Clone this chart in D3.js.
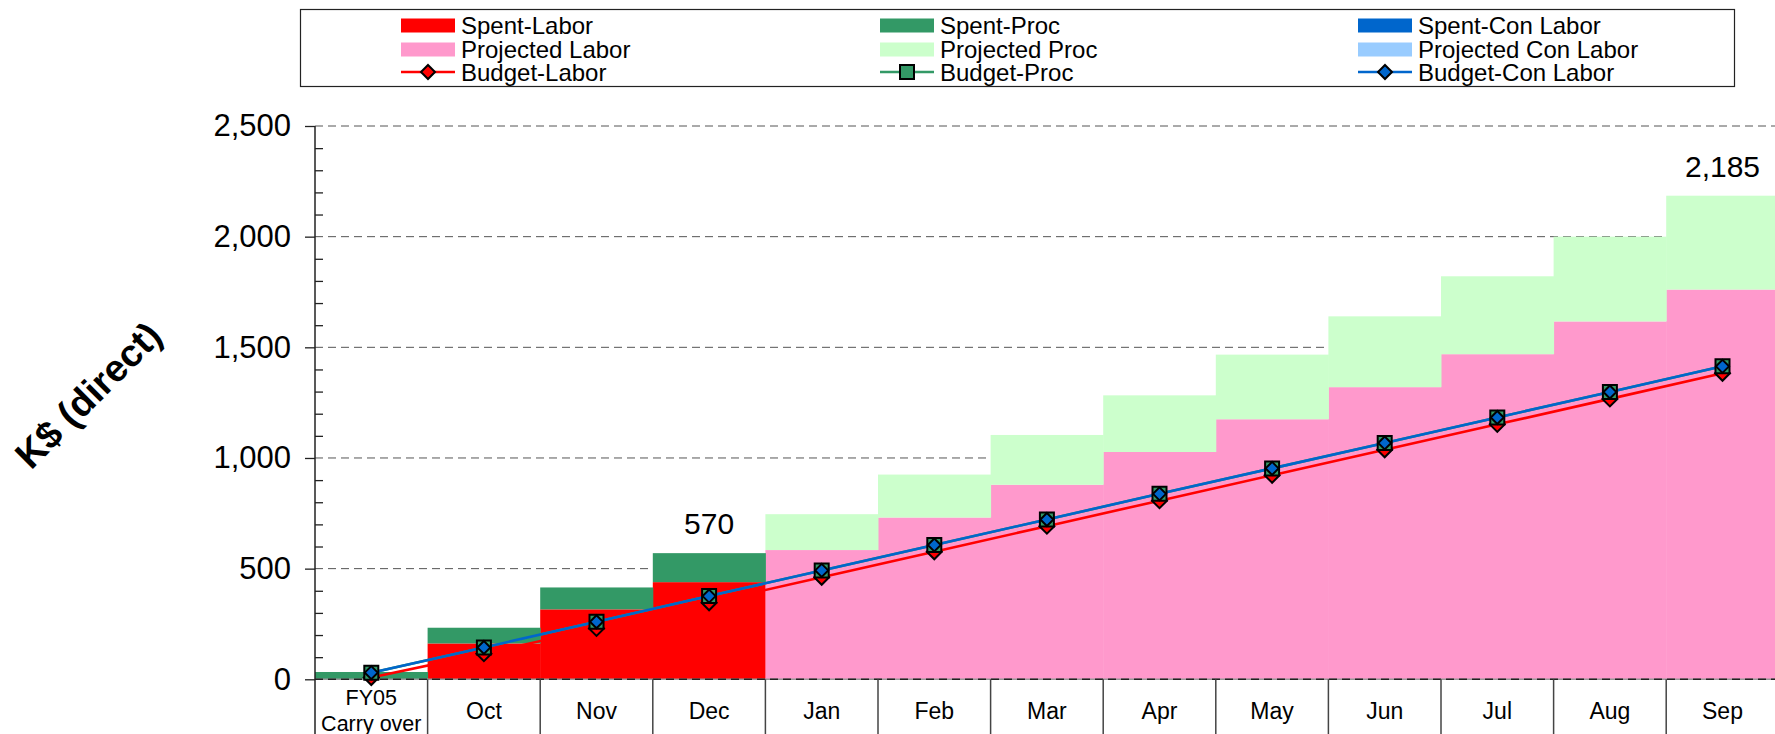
<!DOCTYPE html>
<html>
<head>
<meta charset="utf-8">
<script src="https://cdn.jsdelivr.net/npm/d3@7"></script>
<style>
    body { margin: 0; background: #fff; }
    #chart-area { width: 1775px; height: 734px; overflow: hidden; }
    text { font-family: "Liberation Sans", Arial, sans-serif; fill: #000; }
</style>
</head>
<body>
<div id="chart-area"></div>
<script>

// months (first one is the carry over from FY05)
const categories = ["FY05|Carry over", "Oct", "Nov", "Dec", "Jan", "Feb", "Mar", "Apr", "May", "Jun", "Jul", "Aug", "Sep"];

// K$ per bar segment
const spentLabor        = [0, 162, 316, 439, 0, 0, 0, 0, 0, 0, 0, 0, 0];
const spentProc         = [33, 71, 99, 131, 0, 0, 0, 0, 0, 0, 0, 0, 0];
const spentConLabor     = [0, 0, 0, 0, 0, 0, 0, 0, 0, 0, 0, 0, 0];
const projectedLabor    = [0, 0, 0, 0, 584, 731, 879, 1027, 1175, 1320, 1469, 1617, 1761];
const projectedProc     = [0, 0, 0, 0, 162, 194, 225, 256, 292, 320, 352, 383, 424];
const projectedConLabor = [0, 0, 0, 0, 0, 0, 0, 0, 0, 0, 0, 0, 0];

// budget lines (cumulative)
const budgetLabor    = [8, 116, 230, 346, 461, 576, 692, 807, 922, 1037, 1152, 1267, 1383];
const budgetProc     = [30, 144, 260, 376, 492, 607, 722, 838, 953, 1068, 1183, 1298, 1414];
const budgetConLabor = [30, 144, 260, 376, 492, 607, 722, 838, 953, 1068, 1183, 1298, 1414];

const yTicks = [0, 500, 1000, 1500, 2000, 2500];
const totalLabels = ["Dec", "Sep"];


class BudgetChart {

    constructor(parentElement) {
        this.parentElement = parentElement;
        this.initVis();
    }

    initVis() {
        let vis = this;

        vis.width = 1775;
        vis.height = 734;
        vis.plot = {left: 315, top: 126, bottom: 679.3, band: 112.6};

        vis.svg = d3.select("#" + vis.parentElement).append("svg")
            .attr("width", vis.width)
            .attr("height", vis.height);

        vis.x = d3.scaleBand()
            .domain(categories)
            .range([vis.plot.left, vis.plot.left + vis.plot.band * categories.length])
            .padding(0);

        vis.y = d3.scaleLinear()
            .domain([0, 2500])
            .range([vis.plot.bottom, vis.plot.top]);

        vis.colors = {
            spentLabor: "#ff0000",
            projectedLabor: "#ff99cc",
            spentProc: "#339966",
            projectedProc: "#ccffcc",
            spentConLabor: "#0066cc",
            projectedConLabor: "#99ccff"
        };

        vis.wrangleData();
    }

    wrangleData() {
        let vis = this;

        vis.rows = categories.map((c, i) => ({
            cat: c,
            spentLabor: spentLabor[i],
            projectedLabor: projectedLabor[i],
            spentProc: spentProc[i],
            projectedProc: projectedProc[i],
            spentConLabor: spentConLabor[i],
            projectedConLabor: projectedConLabor[i]
        }));

        vis.keys = ["spentLabor", "projectedLabor", "spentProc", "projectedProc", "spentConLabor", "projectedConLabor"];
        vis.stacked = d3.stack().keys(vis.keys)(vis.rows);

        vis.rows.forEach(d => {
            d.total = vis.keys.reduce((s, k) => s + d[k], 0);
        });

        vis.budgets = [
            {name: "Budget-Labor", values: budgetLabor, color: "#ff0000", marker: "diamond", fill: "#ff0000", r: 7.5},
            {name: "Budget-Proc", values: budgetProc, color: "#339966", marker: "square", fill: "#339966", r: 7},
            {name: "Budget-Con Labor", values: budgetConLabor, color: "#0066cc", marker: "diamond", fill: "#0066cc", r: 6.5}
        ];

        vis.updateVis();
    }

    markerPath(type, r) {
        if (type == "square") {
            return `M${-r},${-r}H${r}V${r}H${-r}Z`;
        }
        return `M0,${-r}L${r},0L0,${r}L${-r},0Z`;
    }

    updateVis() {
        let vis = this;
        let bw = vis.x.bandwidth();
        let cx = d => vis.x(d) + bw / 2;

        // dashed grid lines (behind the bars)
        vis.svg.append("g")
            .selectAll("line")
            .data(yTicks.filter(d => d > 0))
            .enter().append("line")
            .attr("x1", vis.plot.left)
            .attr("x2", vis.width)
            .attr("y1", d => vis.y(d))
            .attr("y2", d => vis.y(d))
            .attr("stroke", "#555")
            .attr("stroke-width", 1)
            .attr("stroke-dasharray", "8,5");

        // stacked bars
        vis.svg.append("g")
            .selectAll("g")
            .data(vis.stacked)
            .enter().append("g")
            .attr("fill", d => vis.colors[d.key])
            .selectAll("rect")
            .data(d => d)
            .enter().append("rect")
            .attr("x", d => vis.x(d.data.cat))
            .attr("y", d => vis.y(d[1]))
            .attr("width", bw + 0.5)
            .attr("height", d => vis.y(d[0]) - vis.y(d[1]));

        // zero line
        vis.svg.append("line")
            .attr("x1", vis.plot.left).attr("x2", vis.width)
            .attr("y1", vis.y(0)).attr("y2", vis.y(0))
            .attr("stroke", "#999").attr("stroke-width", 1.5);
        vis.svg.append("line")
            .attr("x1", vis.plot.left).attr("x2", vis.width)
            .attr("y1", vis.y(0)).attr("y2", vis.y(0))
            .attr("stroke", "#222").attr("stroke-width", 1.5)
            .attr("stroke-dasharray", "8,5");

        // category cells under the axis
        vis.svg.append("g")
            .selectAll("line")
            .data(categories.slice(1))
            .enter().append("line")
            .attr("x1", d => vis.x(d)).attr("x2", d => vis.x(d))
            .attr("y1", vis.y(0)).attr("y2", vis.height)
            .attr("stroke", "#444").attr("stroke-width", 1.5);

        let catText = vis.svg.append("g")
            .attr("text-anchor", "middle")
            .selectAll("text")
            .data(categories)
            .enter().append("text")
            .attr("x", d => cx(d))
            .attr("y", d => d.includes("|") ? 704.5 : 719)
            .style("font-size", d => d.includes("|") ? "21.5px" : "23px");
        catText.each(function(d) {
            let parts = d.split("|");
            d3.select(this).selectAll("tspan")
                .data(parts)
                .enter().append("tspan")
                .attr("x", cx(d))
                .attr("dy", (p, i) => i == 0 ? 0 : 26.5)
                .text(p => p);
        });

        // y axis
        vis.yAxis = d3.axisLeft(vis.y)
            .tickValues(yTicks)
            .tickSize(10)
            .tickPadding(14)
            .tickFormat(d3.format(","));

        vis.yGroup = vis.svg.append("g")
            .attr("class", "y-axis axis")
            .attr("transform", `translate(${vis.plot.left},0)`)
            .call(vis.yAxis);
        vis.yGroup.select(".domain").remove();
        vis.yGroup.selectAll("line").attr("stroke", "#222").attr("stroke-width", 1.3);
        vis.yGroup.selectAll("text")
            .style("font-size", "31px")
            .style("font-family", "'Liberation Sans', Arial, sans-serif")
            .attr("fill", "#000");

        // minor ticks, inside the plot
        vis.minorAxis = d3.axisRight(vis.y)
            .tickValues(d3.range(100, 2500, 100).filter(d => d % 500 != 0))
            .tickSize(8)
            .tickFormat("");
        let minor = vis.svg.append("g")
            .attr("transform", `translate(${vis.plot.left},0)`)
            .call(vis.minorAxis);
        minor.select(".domain").remove();
        minor.selectAll("line").attr("stroke", "#222").attr("stroke-width", 1.3);

        vis.svg.append("line")
            .attr("x1", vis.plot.left).attr("x2", vis.plot.left)
            .attr("y1", vis.plot.top).attr("y2", vis.height)
            .attr("stroke", "#222").attr("stroke-width", 1.5);

        // y axis title
        vis.svg.append("text")
            .attr("transform", "translate(88,395) rotate(-45)")
            .attr("text-anchor", "middle")
            .attr("dy", "0.35em")
            .style("font-size", "38px")
            .style("font-weight", "bold")
            .text("K$ (direct)");

        // budget lines
        let line = d3.line()
            .x((d, i) => cx(categories[i]))
            .y(d => vis.y(d));

        vis.svg.append("g")
            .selectAll("path")
            .data(vis.budgets)
            .enter().append("path")
            .attr("d", d => line(d.values))
            .attr("fill", "none")
            .attr("stroke", d => d.color)
            .attr("stroke-width", 2.6);

        vis.budgets.forEach(b => {
            vis.svg.append("g")
                .selectAll("path")
                .data(b.values)
                .enter().append("path")
                .attr("transform", (d, i) => `translate(${cx(categories[i])},${vis.y(d)})`)
                .attr("d", vis.markerPath(b.marker, b.r))
                .attr("fill", b.fill)
                .attr("stroke", "#000")
                .attr("stroke-width", 2);
        });

        // total labels
        vis.svg.append("g")
            .attr("text-anchor", "middle")
            .selectAll("text")
            .data(vis.rows.filter(d => totalLabels.includes(d.cat)))
            .enter().append("text")
            .attr("x", d => cx(d.cat))
            .attr("y", d => vis.y(d.total) - 19)
            .style("font-size", "30px")
            .text(d => d3.format(",")(d.total));

        vis.drawLegend();
    }

    drawLegend() {
        let vis = this;

        let legend = vis.svg.append("g");
        legend.append("rect")
            .attr("x", 300.5).attr("y", 9.5)
            .attr("width", 1434).attr("height", 77)
            .attr("fill", "#fff")
            .attr("stroke", "#222")
            .attr("stroke-width", 1.2);

        let groups = [
            {spent: "spentLabor", proj: "projectedLabor", names: ["Spent-Labor", "Projected Labor"], budget: vis.budgets[0]},
            {spent: "spentProc", proj: "projectedProc", names: ["Spent-Proc", "Projected Proc"], budget: vis.budgets[1]},
            {spent: "spentConLabor", proj: "projectedConLabor", names: ["Spent-Con Labor", "Projected Con Labor"], budget: vis.budgets[2]}
        ];
        let colX = [401, 880, 1358];
        let rowY = [25.5, 49.5, 72];

        groups.forEach((g, i) => {
            let col = legend.append("g").attr("transform", `translate(${colX[i]},0)`);

            [g.spent, g.proj].forEach((k, j) => {
                col.append("rect")
                    .attr("x", 0).attr("y", rowY[j] - 7)
                    .attr("width", 54).attr("height", 14)
                    .attr("fill", vis.colors[k]);
            });

            col.append("line")
                .attr("x1", 0).attr("x2", 54)
                .attr("y1", rowY[2]).attr("y2", rowY[2])
                .attr("stroke", g.budget.color)
                .attr("stroke-width", 2.6);
            col.append("path")
                .attr("transform", `translate(27,${rowY[2]})`)
                .attr("d", vis.markerPath(g.budget.marker, 7))
                .attr("fill", g.budget.fill)
                .attr("stroke", "#000")
                .attr("stroke-width", 2);

            col.selectAll("text")
                .data([g.names[0], g.names[1], g.budget.name])
                .enter().append("text")
                .attr("x", 60)
                .attr("y", (d, j) => rowY[j] + 8.5)
                .style("font-size", "24px")
                .text(d => d);
        });
    }
}

new BudgetChart("chart-area");
</script>
</body>
</html>
